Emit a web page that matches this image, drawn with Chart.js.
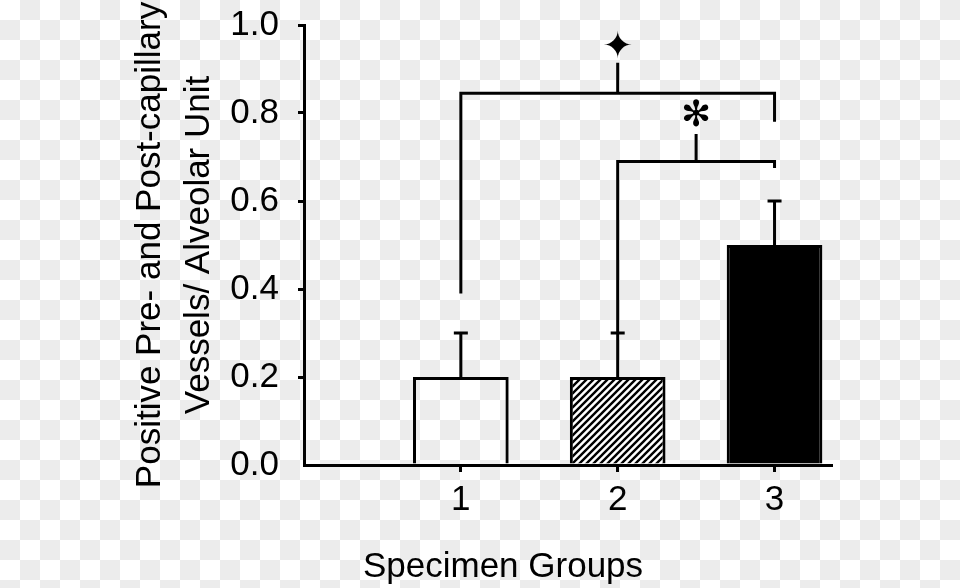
<!DOCTYPE html>
<html>
<head>
<meta charset="utf-8">
<script src="https://cdn.jsdelivr.net/npm/chart.js@4"></script>
<style>
    html, body {
        margin: 0;
        padding: 0;
    }
    body {
        /* transparent-style checkerboard behind the figure */
        background: repeating-conic-gradient(#ececec 0 25%, #ffffff 0 50%) 0 0 / 40px 40px;
    }
    .chart-box {
        width: 960px;
        height: 588px;
    }
</style>
</head>
<body>
<div class="chart-box"><canvas id="report"></canvas></div>
<script>
// data
const groups = [1, 2, 3];
const means = [0.2, 0.2, 0.5];
const errors = [0.1, 0.1, 0.1];

// significance brackets (in data units)
const bracketFrom = [1, 2];
const bracketTo = [3, 3];
const bracketLevel = [0.845, 0.69];
const bracketLeftFoot = [0.39, 0.3];
const bracketRightFoot = [0.78, 0.675];
const stemAt = [2, 2.5];
const stemTop = [0.914, 0.752];
const marks = ['\u2726', '\u273B'];
const markLevel = [0.947, 0.792];

const yTitle = ['Positive Pre- and Post-capillary', 'Vessels/ Alveolar Unit'];
const xTitle = 'Specimen Groups';

Chart.defaults.font.family = '"Liberation Sans", Arial, sans-serif';
Chart.defaults.color = '#000';

// diagonal hatch for the second group
hatch = function () {
    const c = document.createElement('canvas');
    const s = 7;
    c.width = s;
    c.height = s;
    const g = c.getContext('2d');
    g.fillStyle = '#fff';
    g.fillRect(0, 0, s, s);
    g.strokeStyle = '#000';
    g.lineWidth = 2.4;
    g.beginPath();
    g.moveTo(-1, s + 1); g.lineTo(s + 1, -1);
    g.moveTo(-1, 1); g.lineTo(1, -1);
    g.moveTo(s - 1, s + 1); g.lineTo(s + 1, s - 1);
    g.stroke();
    return g.createPattern(c, 'repeat');
}

const errorBars = {
    id: 'errorBars',
    afterDatasetsDraw(chart) {
        const {ctx, scales: {x, y}} = chart;
        ctx.save();
        ctx.strokeStyle = '#000';
        ctx.lineWidth = 3;
        groups.forEach((g, i) => {
            const px = x.getPixelForValue(g);
            const y0 = y.getPixelForValue(means[i]);
            const y1 = y.getPixelForValue(means[i] + errors[i]);
            ctx.beginPath();
            ctx.moveTo(px, y0);
            ctx.lineTo(px, y1);
            ctx.moveTo(px - 7, y1);
            ctx.lineTo(px + 7, y1);
            ctx.stroke();
        });
        ctx.restore();
    }
};

const brackets = {
    id: 'brackets',
    afterDraw(chart) {
        const {ctx, scales: {x, y}} = chart;
        ctx.save();
        ctx.strokeStyle = '#000';
        ctx.lineWidth = 3;
        ctx.lineCap = 'butt';
        bracketFrom.forEach((from, i) => {
            const xl = x.getPixelForValue(from);
            const xr = x.getPixelForValue(bracketTo[i]);
            const yl = y.getPixelForValue(bracketLevel[i]);
            ctx.beginPath();
            ctx.moveTo(xl, y.getPixelForValue(bracketLeftFoot[i]));
            ctx.lineTo(xl, yl);
            ctx.lineTo(xr, yl);
            ctx.lineTo(xr, y.getPixelForValue(bracketRightFoot[i]));
            const xs = x.getPixelForValue(stemAt[i]);
            ctx.moveTo(xs, yl);
            ctx.lineTo(xs, y.getPixelForValue(stemTop[i]));
            ctx.stroke();

            ctx.fillStyle = '#000';
            ctx.textAlign = 'center';
            ctx.textBaseline = 'middle';
            ctx.font = (i == 0 ? '37px' : '36px') + ' "DejaVu Sans"';
            ctx.fillText(marks[i], xs, y.getPixelForValue(markLevel[i]));
        });

        // x axis title sits left of the axis centre in the original
        ctx.font = '35px "Liberation Sans", Arial, sans-serif';
        ctx.textAlign = 'center';
        ctx.textBaseline = 'middle';
        ctx.fillText(xTitle, 503, 567);
        ctx.restore();
    }
};

const ctx = document.getElementById('report').getContext('2d');
const report_container = new Chart(ctx, {
    type: 'bar',
    data: {
        datasets: [{
            data: groups.map((g, i) => ({x: g, y: means[i]})),
            backgroundColor: ['rgba(0,0,0,0)', hatch(), '#000'],
            borderColor: '#000',
            borderWidth: 3,
            barPercentage: 0.61,
            categoryPercentage: 1
        }]
    },
    options: {
        responsive: true,
        maintainAspectRatio: false,
        animation: false,
        layout: {
            padding: {top: 25, right: 129, bottom: 0, left: 0}
        },
        plugins: {
            legend: {display: false},
            tooltip: {enabled: false}
        },
        scales: {
            x: {
                type: 'linear',
                offset: false,
                min: 0,
                max: 3.36,
                afterBuildTicks: function (axis) {
                    axis.ticks = groups.map(v => ({value: v}));
                },
                afterFit: function (scale) {
                    scale.height = 123;
                },
                ticks: {
                    font: {size: 35},
                    padding: 7,
                    callback: v => String(v)
                },
                grid: {
                    offset: false,
                    drawOnChartArea: false,
                    color: '#000',
                    lineWidth: 3,
                    tickLength: 7
                },
                border: {display: true, color: '#000', width: 3}
            },
            y: {
                min: 0,
                max: 1,
                afterFit: function (scale) {
                    scale.width = 304;
                    scale.paddingTop = 0;
                    scale.paddingBottom = 0;
                },
                ticks: {
                    stepSize: 0.2,
                    font: {size: 35},
                    padding: 19,
                    callback: v => v.toFixed(1)
                },
                grid: {
                    drawOnChartArea: false,
                    color: c => (c.tick && c.tick.value === 0) ? 'rgba(0,0,0,0)' : '#000',
                    lineWidth: 3,
                    tickLength: 6
                },
                border: {display: true, color: '#000', width: 3},
                title: {
                    display: true,
                    text: yTitle,
                    font: {size: 35, lineHeight: 1.4},
                    padding: {top: 126, bottom: 0}
                }
            }
        }
    },
    plugins: [errorBars, brackets]
});
</script>
</body>
</html>
